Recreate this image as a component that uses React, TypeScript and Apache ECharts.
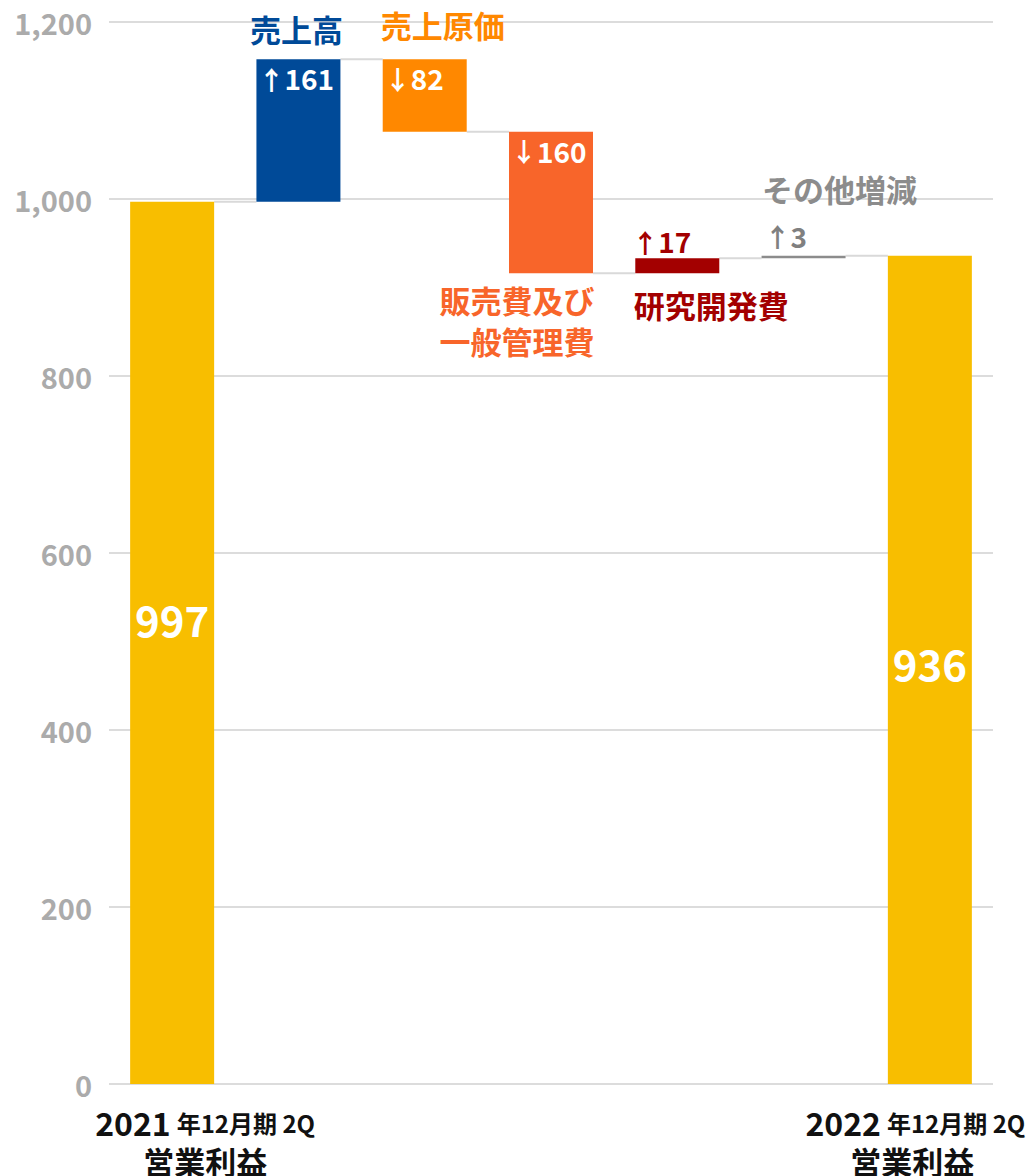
import React, { useEffect, useRef } from "react";
import * as echarts from "echarts";

// ---- data ----
const categories = [
  "2021年12月期 2Q 営業利益",
  "売上高",
  "売上原価",
  "販売費及び一般管理費",
  "研究開発費",
  "その他増減",
  "2022年12月期 2Q 営業利益",
];
const values = [997, 161, -82, -160, 17, 3, 936];
const kinds = ["total", "delta", "delta", "delta", "delta", "delta", "total"];
const itemNames = ["", "売上高", "売上原価", "販売費及び\n一般管理費", "研究開発費", "その他増減", ""];
const xYears = ["2021", "", "", "", "", "", "2022"];
const xPeriod = "年12月期 2Q";
const xTitle = "営業利益";
const yTicks = [0, 200, 400, 600, 800, 1000, 1200];

// ---- styles ----
const barColors = ["#F8BE00", "#004A98", "#FF8800", "#F8652A", "#A30000", "#8C8C8C", "#F8BE00"];
const nameColors = ["", "#004A98", "#FF8800", "#F8652A", "#A30000", "#8C8C8C", ""];
const deltaLabelColors = ["#fff", "#fff", "#fff", "#fff", "#A30000", "#808080", "#fff"];
const labelPlacement = ["inside", "insideTopLeft", "insideTopLeft", "insideTopLeft", "above", "above", "inside"];
const totalOffsets = [[0, -24], [0, 0], [0, 0], [0, 0], [0, 0], [0, 0], [0, -7]];
const aboveOffsets = [[0, 0], [0, 0], [0, 0], [0, 0], [-3, -3], [3, -6], [0, 0]];
const nameLayout = [
  null,
  { side: "top", dx: -2, dy: -31 },
  { side: "top", dx: 18, dy: -35 },
  { side: "bottom", dx: -34, dy: 47 },
  { side: "bottom", dx: 34, dy: 31 },
  { side: "top", dx: 36, dy: -67 },
  null,
];
const BAR_W = 84;
const JP = "'Noto Sans CJK JP', 'Noto Sans', sans-serif";

export default function App() {
  const ref = useRef<HTMLDivElement>(null);
  useEffect(() => {
    if (!ref.current) return;
    const chart = echarts.init(ref.current, null, { renderer: "svg", width: 1032, height: 1176 });

    // waterfall computation
    const bases: number[] = [];
    const heights: number[] = [];
    const ends: number[] = [];
    let cum = 0;
    values.forEach((v, i) => {
      if (kinds[i] === "total") {
        bases.push(0);
        heights.push(v);
        cum = v;
      } else {
        const next = cum + v;
        bases.push(Math.min(cum, next));
        heights.push(Math.abs(v));
        cum = next;
      }
      ends.push(cum);
    });

    const connectorData = ends.slice(0, -1).map((lvl, i) => [i, lvl]);
    const nameData = values
      .map((_, i) => {
        const lay = nameLayout[i];
        if (!lay) return null;
        const lvl = lay.side === "top" ? bases[i] + heights[i] : bases[i];
        return [i, lvl];
      })
      .filter(Boolean) as number[][];

    const mainData = values.map((v, i) => {
      const place = labelPlacement[i];
      let label: any;
      if (place === "inside") {
        label = {
          show: true,
          position: "inside",
          offset: totalOffsets[i],
          formatter: String(v),
          color: "#fff",
          fontSize: 42,
          fontWeight: "bold",
          fontFamily: JP,
        };
      } else {
        const arrow = v > 0 ? "↑" : "↓";
        const txt = `{ar|${arrow}}{num|${Math.abs(v)}}`;
        const col = deltaLabelColors[i];
        const rich = {
          ar: { fontFamily: "'Noto Sans CJK JP'", fontSize: 26, fontWeight: "bold", color: col },
          num: { fontFamily: JP, fontSize: 28, fontWeight: "bold", color: col },
        };
        if (place === "insideTopLeft") {
          label = { show: true, position: "insideTopLeft", distance: 2, offset: [0, 3], formatter: txt, rich };
        } else {
          label = {
            show: true,
            position: aboveOffsets[i],
            align: "left",
            verticalAlign: "bottom",
            formatter: txt,
            rich,
          };
        }
      }
      return { value: heights[i], itemStyle: { color: barColors[i] }, label };
    });

    const base = { fontFamily: JP, fontWeight: "bold", color: "#111" };
    const xRich: any = {
      y0: { ...base, fontSize: 32, lineHeight: 40, padding: [0, 0, 0, 66] },
      s0: { ...base, fontSize: 24, lineHeight: 40, padding: [0, 0, 0, 6] },
      n0: { ...base, fontSize: 31, lineHeight: 36, padding: [0, 0, 0, 66] },
      y6: { ...base, fontSize: 32, lineHeight: 40 },
      s6: { ...base, fontSize: 24, lineHeight: 40, padding: [0, 29, 0, 6] },
      n6: { ...base, fontSize: 31, lineHeight: 36, padding: [0, 35, 0, 0] },
    };

    chart.setOption({
      animation: false,
      backgroundColor: "#fff",
      grid: { left: 109, right: 39, top: 22, bottom: 92, containLabel: false, outerBoundsMode: "none" },
      xAxis: {
        type: "category",
        data: categories,
        axisLine: { show: false },
        axisTick: { show: false },
        axisLabel: {
          interval: 0,
          margin: 18,
          hideOverlap: false,
          formatter: (_: string, idx: number) => {
            if (!xYears[idx]) return "";
            return `{y${idx}|${xYears[idx]}}{s${idx}|${xPeriod}}\n{n${idx}|${xTitle}}`;
          },
          rich: xRich,
        },
      },
      yAxis: {
        type: "value",
        min: yTicks[0],
        max: yTicks[yTicks.length - 1],
        interval: yTicks[1] - yTicks[0],
        axisLine: { show: false },
        axisTick: { show: false },
        splitLine: { lineStyle: { color: "#DCDCDC", width: 2 } },
        axisLabel: {
          margin: 17,
          color: "#ABABAB",
          fontSize: 29,
          fontWeight: "bold",
          fontFamily: JP,
          formatter: (v: number) => v.toLocaleString("en-US"),
        },
      },
      series: [
        {
          type: "custom",
          name: "connectors",
          silent: true,
          z: 1,
          data: connectorData,
          renderItem: (_p: any, api: any) => {
            const i = api.value(0);
            const lvl = api.value(1);
            const a = api.coord([i, lvl]);
            const b = api.coord([i + 1, lvl]);
            return {
              type: "line",
              shape: { x1: a[0] + BAR_W / 2, y1: a[1], x2: b[0] - BAR_W / 2, y2: b[1] },
              style: { stroke: "#D9D9D9", lineWidth: 2 },
            };
          },
        },
        {
          type: "bar",
          stack: "w",
          barWidth: BAR_W,
          silent: true,
          itemStyle: { color: "transparent" },
          data: bases,
          z: 2,
        },
        {
          type: "bar",
          stack: "w",
          barWidth: BAR_W,
          data: mainData,
          z: 3,
        },
        {
          type: "custom",
          name: "names",
          silent: true,
          z: 4,
          data: nameData,
          renderItem: (_p: any, api: any) => {
            const i = api.value(0);
            const lvl = api.value(1);
            const p = api.coord([i, lvl]);
            const lay = nameLayout[i]!;
            return {
              type: "text",
              x: p[0] + lay.dx,
              y: p[1] + lay.dy,
              style: {
                text: itemNames[i],
                fill: nameColors[i],
                fontSize: 31,
                fontWeight: "bold",
                fontFamily: JP,
                align: "center",
                verticalAlign: "middle",
                lineHeight: 41,
              },
            };
          },
        },
      ],
    });
    return () => chart.dispose();
  }, []);
  return (
    <div
      ref={ref}
      style={{ position: "fixed", left: 0, top: 0, width: 1032, height: 1176, background: "#fff" }}
    />
  );
}
